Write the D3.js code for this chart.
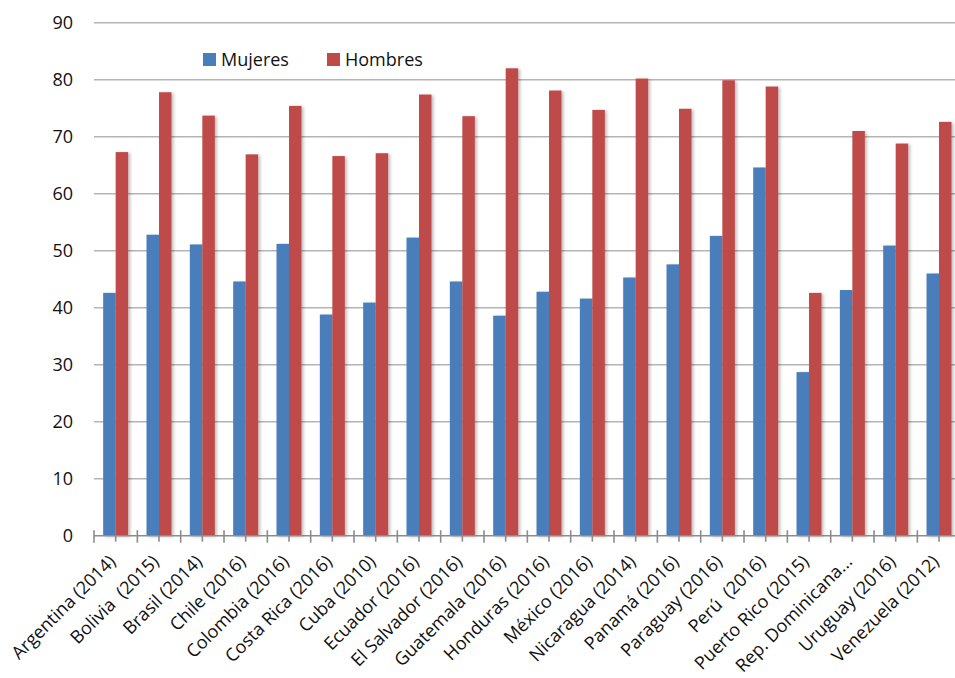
<!DOCTYPE html>
<html>
<head>
<meta charset="utf-8">
<script src="https://cdn.jsdelivr.net/npm/d3@7"></script>
<style>
  body { margin: 0; background: #fff; }
  text { font-family: "Open Sans", sans-serif; fill: #111; }
</style>
</head>
<body>
<div class="chart"></div>
<script>
// Data
var countries = ["Argentina (2014)", "Bolivia  (2015)", "Brasil (2014)", "Chile (2016)",
    "Colombia (2016)", "Costa Rica (2016)", "Cuba (2010)", "Ecuador (2016)",
    "El Salvador (2016)", "Guatemala (2016)", "Honduras (2016)", "México (2016)",
    "Nicaragua (2014)", "Panamá (2016)", "Paraguay (2016)", "Perú  (2016)",
    "Puerto Rico (2015)", "Rep. Dominicana...", "Uruguay (2016)", "Venezuela (2012)"];
var mujeres = [42.6, 52.8, 51.1, 44.6, 51.2, 38.8, 40.9, 52.3, 44.6, 38.6,
    42.8, 41.6, 45.3, 47.6, 52.6, 64.6, 28.7, 43.1, 50.9, 46.0];
var hombres = [67.3, 77.8, 73.7, 66.9, 75.4, 66.6, 67.1, 77.4, 73.6, 82.0,
    78.1, 74.7, 80.2, 74.9, 79.9, 78.8, 42.6, 71.0, 68.8, 72.6];
var seriesNames = ["Mujeres", "Hombres"];
var yTicks = [0, 10, 20, 30, 40, 50, 60, 70, 80, 90];

var colors = ["#4A7EBB", "#BE4B48"];

// Canvas
var svgWidth = 955;
var svgHeight = 678;
var margin = { top: 22.7, left: 94, bottom: 142.3 };
var plotRight = 960.7;
var height = svgHeight - margin.top - margin.bottom;

var svg = d3.select(".chart")
            .append("svg")
            .attr("width", svgWidth)
            .attr("height", svgHeight);

// Shadow on the bars
var filter = svg.append("defs").append("filter")
    .attr("id", "shadow")
    .attr("x", "-20%").attr("y", "-5%")
    .attr("width", "160%").attr("height", "110%");
filter.append("feDropShadow")
    .attr("dx", 2).attr("dy", 1)
    .attr("stdDeviation", 1.5)
    .attr("flood-color", "#000")
    .attr("flood-opacity", 0.25);

// Scales
var xScale = d3.scaleBand()
               .domain(countries)
               .range([margin.left, plotRight])
               .paddingInner(0)
               .paddingOuter(0);
var bandW = xScale.bandwidth();
var barW = 12.5;

var yScale = d3.scaleLinear()
               .domain([0, 90])
               .range([margin.top + height, margin.top]);

// Gridlines
svg.append("g")
   .selectAll("line")
   .data(yTicks.filter(d => d > 0))
   .enter()
   .append("line")
   .attr("x1", margin.left)
   .attr("x2", svgWidth)
   .attr("y1", d => yScale(d))
   .attr("y2", d => yScale(d))
   .attr("stroke", "#b4b4b4")
   .attr("stroke-width", 1.6);

// Y axis labels (no axis line)
var leftAxis = d3.axisLeft(yScale).tickValues(yTicks).tickSize(0).tickPadding(21);
var yAxisG = svg.append("g")
   .attr("transform", `translate(${margin.left}, 0)`)
   .call(leftAxis);
yAxisG.select(".domain").remove();
yAxisG.selectAll("text")
      .style("font-family", "'Open Sans', sans-serif")
      .style("font-size", "18px")
      .attr("fill", "#111");

// Bars
var barGroup = svg.append("g").attr("filter", "url(#shadow)");
[mujeres, hombres].forEach(function(values, s) {
    barGroup.append("g")
       .selectAll("rect")
       .data(values)
       .enter()
       .append("rect")
       .attr("x", (d, i) => xScale(countries[i]) + bandW / 2 - barW + s * barW)
       .attr("y", d => yScale(d))
       .attr("width", barW)
       .attr("height", d => yScale(0) - yScale(d))
       .attr("fill", colors[s]);
});

// X axis line and ticks
var y0 = yScale(0);
var axisG = svg.append("g");
axisG.append("line")
     .attr("x1", margin.left).attr("x2", svgWidth)
     .attr("y1", y0).attr("y2", y0)
     .attr("stroke", "#8c8c8c").attr("stroke-width", 1.6);
axisG.selectAll(".major")
     .data(d3.range(countries.length + 1))
     .enter()
     .append("line")
     .attr("x1", i => margin.left + i * bandW)
     .attr("x2", i => margin.left + i * bandW)
     .attr("y1", y0 - 5.5).attr("y2", y0 + 7)
     .attr("stroke", "#8c8c8c").attr("stroke-width", 1.6);
axisG.selectAll(".minor")
     .data(countries)
     .enter()
     .append("line")
     .attr("x1", d => xScale(d) + bandW / 2)
     .attr("x2", d => xScale(d) + bandW / 2)
     .attr("y1", y0).attr("y2", y0 + 6)
     .attr("stroke", "#8c8c8c").attr("stroke-width", 1.6);

// X labels, rotated
svg.append("g")
   .selectAll("text")
   .data(countries)
   .enter()
   .append("text")
   .attr("transform", d => `translate(${xScale(d) + bandW / 2 + 1}, ${y0 + 27}) rotate(-45)`)
   .attr("text-anchor", "end")
   .style("font-size", "18px")
   .style("white-space", "pre")
   .text(d => d);

// Legend
var legend = svg.append("g");
var legendX = [203, 327];
seriesNames.forEach(function(name, s) {
    legend.append("rect")
          .attr("x", legendX[s]).attr("y", 53)
          .attr("width", 13).attr("height", 13)
          .attr("fill", colors[s]);
    legend.append("text")
          .attr("x", legendX[s] + 18).attr("y", 65.5)
          .style("font-size", "18px")
          .text(name);
});
</script>
</body>
</html>
